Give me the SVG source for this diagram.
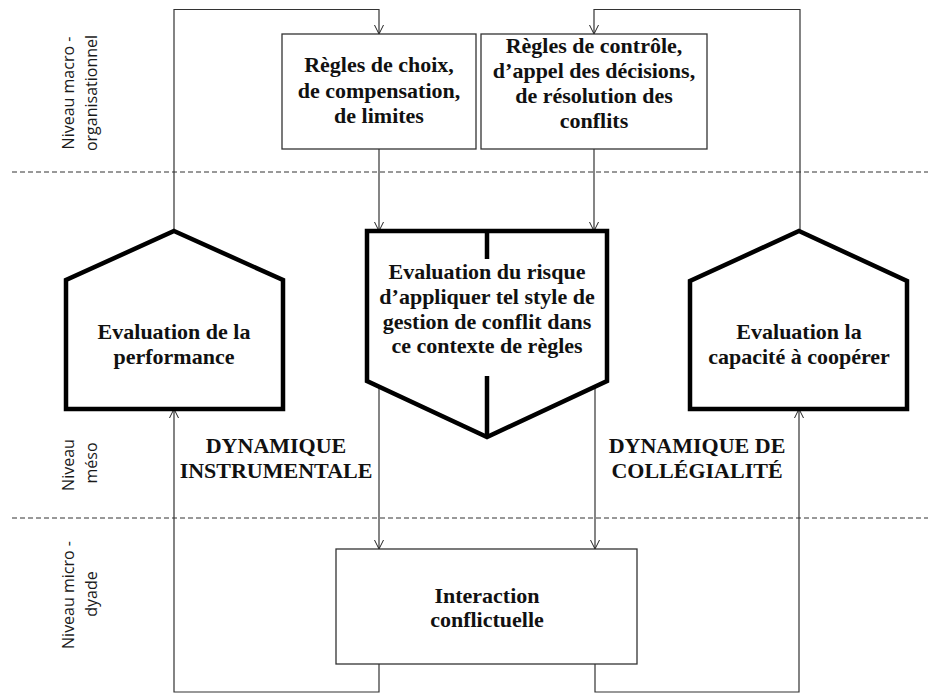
<svg xmlns="http://www.w3.org/2000/svg" width="928" height="693" viewBox="0 0 928 693">
<defs>
<marker id="arr" viewBox="-11 -6 12 12" markerWidth="12" markerHeight="12" refX="0" refY="0" orient="auto" markerUnits="userSpaceOnUse">
<path d="M-9,-4.5 L0,0 L-9,4.5" fill="none" stroke="#222" stroke-width="1"/>
</marker>
<style>
.t{font-family:"Liberation Serif","Times New Roman",serif;font-weight:bold;font-size:22px;fill:#111;text-anchor:middle}
.lv{font-family:"Open Sans","Liberation Sans",sans-serif;font-size:16px;fill:#1a1a1a;text-anchor:middle}
.box{fill:#fff;stroke:#333;stroke-width:1.3}
.thick{fill:#fff;stroke:#000;stroke-width:4.5;stroke-linejoin:miter}
.c{fill:none;stroke:#333;stroke-width:1.2}
.dash{stroke:#333;stroke-width:1;stroke-dasharray:5,3}
</style>
</defs>
<rect width="928" height="693" fill="#fff"/>
<g id="levels">
<line class="dash" x1="12" y1="172" x2="928" y2="172"/>
<line class="dash" x1="12" y1="518" x2="928" y2="518"/>
<text class="lv" transform="translate(74,93) rotate(-90)">Niveau macro -</text>
<text class="lv" transform="translate(97,93) rotate(-90)">organisationnel</text>
<text class="lv" transform="translate(74,465) rotate(-90)">Niveau</text>
<text class="lv" transform="translate(97,463) rotate(-90)">méso</text>
<text class="lv" transform="translate(74,595) rotate(-90)">Niveau micro -</text>
<text class="lv" transform="translate(97,594) rotate(-90)">dyade</text>
</g>
<g id="connectors">
<path class="c" d="M174,231 V9.5 H379 V34" marker-end="url(#arr)"/>
<path class="c" d="M800,231 V9.5 H594 V34" marker-end="url(#arr)"/>
<path class="c" d="M379,149 V231" marker-end="url(#arr)"/>
<path class="c" d="M594,149 V231" marker-end="url(#arr)"/>
<path class="c" d="M379,380 V549" marker-end="url(#arr)"/>
<path class="c" d="M595,380 V549" marker-end="url(#arr)"/>
<path class="c" d="M379,664 V692 H174 V409" marker-end="url(#arr)"/>
<path class="c" d="M595,664 V692 H799 V409" marker-end="url(#arr)"/>
</g>
<g id="regles-choix">
<rect class="box" x="282" y="34" width="194" height="115"/>
<text class="t" x="379" y="72">Règles de choix,</text>
<text class="t" x="379" y="98">de compensation,</text>
<text class="t" x="379" y="123">de limites</text>
</g>
<g id="regles-controle">
<rect class="box" x="481" y="34" width="226" height="115"/>
<text class="t" x="594" y="53">Règles de contrôle,</text>
<text class="t" x="594" y="78">d’appel des décisions,</text>
<text class="t" x="594" y="103">de résolution des</text>
<text class="t" x="594" y="128">conflits</text>
</g>
<g id="eval-performance">
<polygon class="thick" points="174,231 283,280 283,409 66,409 66,280"/>
<text class="t" x="174" y="339">Evaluation de la</text>
<text class="t" x="174" y="364">performance</text>
</g>
<g id="eval-risque">
<polygon class="thick" points="367,231 607,231 607,381 487,437 367,381"/>
<line x1="487" y1="231" x2="487" y2="259" stroke="#000" stroke-width="4.5"/>
<line x1="487" y1="376" x2="487" y2="437" stroke="#000" stroke-width="4.5"/>
<text class="t" x="487" y="279">Evaluation du risque</text>
<text class="t" x="487" y="304">d’appliquer tel style de</text>
<text class="t" x="487" y="329">gestion de conflit dans</text>
<text class="t" x="487" y="353">ce contexte de règles</text>
</g>
<g id="eval-cooperer">
<polygon class="thick" points="799,231 907,281 907,409 690,409 690,281"/>
<text class="t" x="799" y="339">Evaluation la</text>
<text class="t" x="799" y="364">capacité à coopérer</text>
</g>
<g id="dyn-instrumentale">
<text class="t" x="276" y="453">DYNAMIQUE</text>
<text class="t" x="276" y="478">INSTRUMENTALE</text>
</g>
<g id="dyn-collegialite">
<text class="t" x="697" y="453">DYNAMIQUE DE</text>
<text class="t" x="697" y="478">COLLÉGIALITÉ</text>
</g>
<g id="interaction">
<rect class="box" x="336" y="549" width="301" height="115"/>
<text class="t" x="487" y="603">Interaction</text>
<text class="t" x="487" y="627">conflictuelle</text>
</g>
</svg>
